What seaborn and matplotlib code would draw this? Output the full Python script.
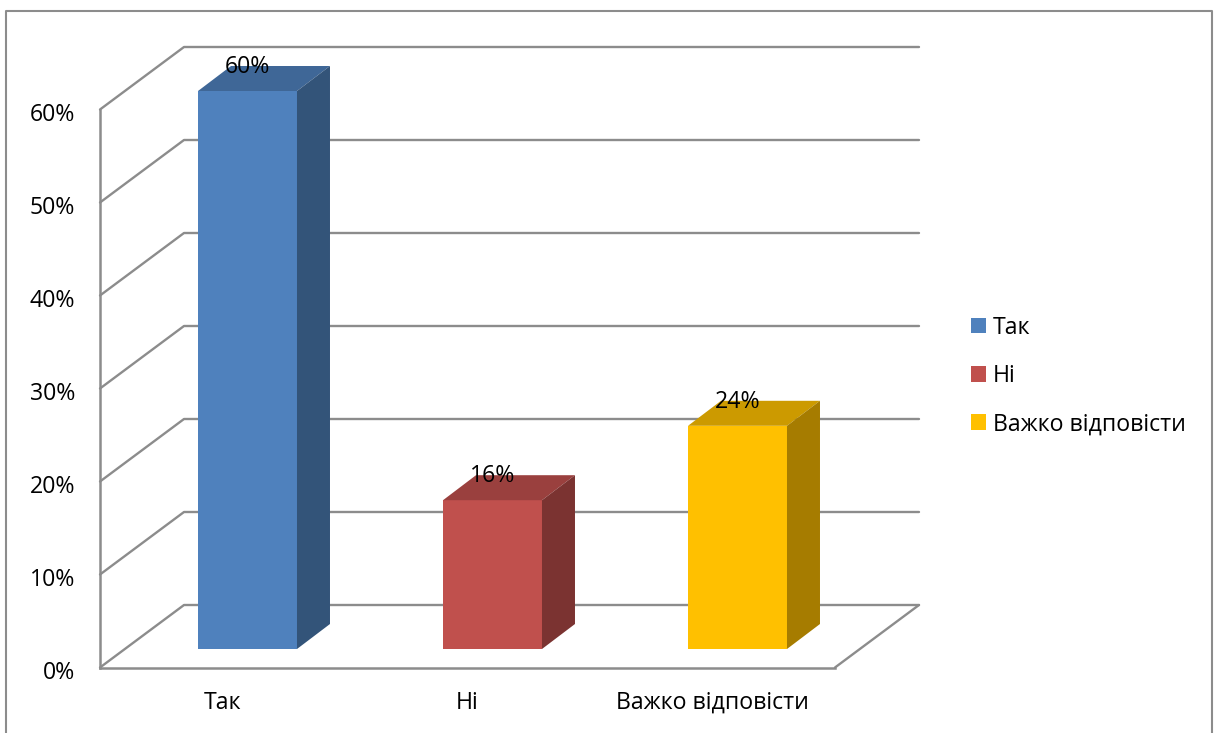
import numpy as np
import pandas as pd
import matplotlib.pyplot as plt
import seaborn as sns
from matplotlib.lines import Line2D
from matplotlib.patches import Polygon
from matplotlib.ticker import PercentFormatter
from matplotlib.transforms import Affine2D, IdentityTransform, ScaledTranslation


categories = ["Так", "Ні", "Важко відповісти"]
values = [0.60, 0.16, 0.24]
colors = ["#4F81BD", "#C0504D", "#FFC000"]
top_colors = ["#3F6797", "#9A403E", "#CC9A00"]
side_colors = ["#335479", "#7B3331", "#A67C00"]
y_ticks = [0.0, 0.1, 0.2, 0.3, 0.4, 0.5, 0.6]

W, H = 1214, 733
GRID = "#8C8C8C"
WALL_DEPTH = np.array([84.0, 62.5])
BAR_SHIFT = (25.0, 18.5)
BAR_DEPTH = np.array([33.0, 25.0])
FONT = 16.7


sns.set_theme(style="white")
plt.rcParams["font.family"] = ["Open Sans", "DejaVu Sans"]

fig = plt.figure(figsize=(W / 100, H / 100), dpi=100)
ax = fig.add_axes([100 / W, (H - 667.5) / H, 735 / W, 558 / H])
ax.patch.set_alpha(0)

df = pd.DataFrame({"category": categories, "value": values})
sns.barplot(
    data=df,
    x="category",
    y="value",
    hue="category",
    palette=colors,
    width=0.404,
    dodge=False,
    saturation=1,
    legend=True,
    linewidth=0,
    edgecolor="none",
    ax=ax,
    zorder=3,
)
ax.set_xlim(-0.5, 2.5)
ax.set_ylim(0, 0.6)
ax.set_xlabel("")
ax.set_ylabel("")
ax.set_yticks(y_ticks)
ax.yaxis.set_major_formatter(PercentFormatter(1, decimals=0))
ax.tick_params(axis="y", length=0, pad=18, labelsize=FONT, labelcolor="black")
ax.tick_params(axis="x", length=0, pad=17, labelsize=FONT, labelcolor="black")

# the y labels sit a little below their gridline in the original
down = ScaledTranslation(0, -2 / 72, fig.dpi_scale_trans)
for label in ax.get_yticklabels():
    label.set_transform(label.get_transform() + down)

sns.despine(ax=ax, top=True, right=True)
for side in ["left", "bottom"]:
    ax.spines[side].set_color(GRID)
    ax.spines[side].set_linewidth(1.8)

# side wall and back wall, worked out from the y axis scale
to_px = ax.transData.transform
for tick in y_ticks:
    front = to_px((-0.5, tick))
    back = front + WALL_DEPTH
    end = to_px((2.5, tick)) + WALL_DEPTH
    ax.add_line(Line2D([front[0], back[0], end[0]], [front[1], back[1], end[1]],
                       color=GRID, lw=1.7, transform=IdentityTransform(),
                       clip_on=False, zorder=1))
corner = to_px((2.5, 0))
ax.add_line(Line2D([corner[0], corner[0] + WALL_DEPTH[0]], [corner[1], corner[1] + WALL_DEPTH[1]],
                   color=GRID, lw=1.7, transform=IdentityTransform(),
                   clip_on=False, zorder=1))

# push the seaborn bars back into the floor and add top + side faces
shift = Affine2D().translate(*BAR_SHIFT)
bars = [p for p in ax.patches if p.get_height() > 0]
for bar, val, top_c, side_c in zip(bars, values, top_colors, side_colors):
    bar.set_transform(ax.transData + shift)
    bar.set_clip_on(False)
    x0, w = bar.get_x(), bar.get_width()
    br = to_px((x0 + w, 0)) + BAR_SHIFT
    tl = to_px((x0, val)) + BAR_SHIFT
    tr = to_px((x0 + w, val)) + BAR_SHIFT
    ax.add_patch(Polygon([tl, tr, tr + BAR_DEPTH, tl + BAR_DEPTH], closed=True, fc=top_c,
                         ec="none", transform=IdentityTransform(), clip_on=False, zorder=3))
    ax.add_patch(Polygon([br, br + BAR_DEPTH, tr + BAR_DEPTH, tr], closed=True, fc=side_c,
                         ec="none", transform=IdentityTransform(), clip_on=False, zorder=3))
    ax.annotate(f"{val:.0%}", xy=(x0 + w / 2, val), xytext=(BAR_SHIFT[0], BAR_SHIFT[1] + 24),
                textcoords="offset pixels", ha="center", va="center",
                fontsize=FONT, color="black", zorder=5, annotation_clip=False)

leg = ax.get_legend()
handles = leg.legend_handles
ax.legend(
    handles,
    categories,
    loc="center left",
    bbox_to_anchor=(971 / W, (H - 376) / H),
    bbox_transform=fig.transFigure,
    frameon=False,
    fontsize=FONT,
    handlelength=0.65,
    handleheight=0.65,
    handletextpad=0.3,
    labelspacing=1.05,
    borderpad=0,
    borderaxespad=0,
    labelcolor="black",
)

# chart frame, open at the bottom
fig.add_artist(Line2D([6 / W, 6 / W, 1212 / W, 1212 / W],
                      [0, (H - 11) / H, (H - 11) / H, 0],
                      color=GRID, lw=1.5, transform=fig.transFigure))

fig.savefig("out.png", dpi=100)
